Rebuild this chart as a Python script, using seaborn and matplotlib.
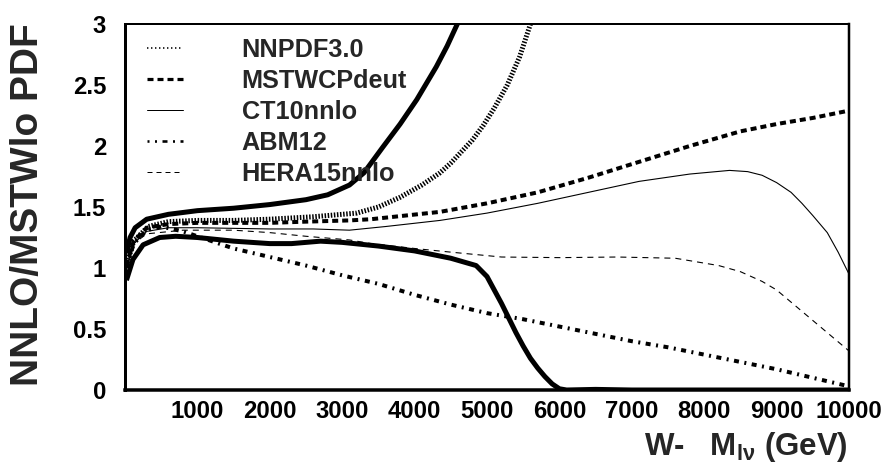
import numpy as np
import pandas as pd
import matplotlib
matplotlib.use("Agg")
import matplotlib.pyplot as plt
from matplotlib.lines import Line2D
from matplotlib.ticker import MultipleLocator, FixedLocator, FuncFormatter
import seaborn as sns

# ---- data: ratio NNLO / MSTW lo PDF versus W- transverse mass -------------
band_hi_x = [20, 70, 140, 300, 600, 1000, 1500, 2000, 2500, 2800, 3100, 3300,
             3560, 3800, 4030, 4300, 4450, 4590, 4750]
band_hi_y = [1.12, 1.25, 1.33, 1.40, 1.44, 1.47, 1.49, 1.52, 1.56, 1.60, 1.68,
             1.78, 1.99, 2.18, 2.38, 2.65, 2.82, 3.00, 3.22]

band_lo_x = [20, 110, 250, 480, 700, 1000, 1500, 2000, 2300, 2700, 3000, 3500,
             4000, 4500, 4850, 5000, 5100, 5200, 5300, 5400, 5500, 5600, 5700,
             5800, 5900, 6000, 6100, 6500, 7000, 8000, 9000, 10000]
band_lo_y = [0.90, 1.07, 1.19, 1.25, 1.26, 1.25, 1.22, 1.20, 1.20, 1.22, 1.21,
             1.18, 1.14, 1.08, 1.02, 0.93, 0.82, 0.71, 0.59, 0.47, 0.36, 0.26,
             0.18, 0.11, 0.05, 0.01, 0.0, 0.005, 0.0, 0.0, 0.0, 0.0]

nnpdf_x = [20, 120, 320, 600, 1000, 1500, 2000, 2600, 3200, 3500, 3800, 4100,
           4350, 4500, 4800, 4950, 5100, 5280, 5450, 5600, 5700]
nnpdf_y = [1.02, 1.22, 1.34, 1.38, 1.39, 1.39, 1.40, 1.42, 1.45, 1.50, 1.58,
           1.68, 1.78, 1.86, 2.05, 2.17, 2.31, 2.50, 2.73, 3.00, 3.20]

mstw_x = [20, 120, 300, 600, 1000, 1500, 2000, 2500, 3100, 3400, 4350, 5000,
          5700, 6400, 7100, 7800, 8500, 9000, 9500, 10000]
mstw_y = [1.02, 1.22, 1.33, 1.36, 1.37, 1.37, 1.37, 1.38, 1.39, 1.40, 1.46,
          1.53, 1.62, 1.74, 1.87, 2.00, 2.12, 2.18, 2.23, 2.29]

ct10_x = [20, 120, 300, 600, 1000, 2000, 2600, 3100, 3600, 4350, 5000, 5700,
          6400, 7100, 7800, 8350, 8600, 8800, 9000, 9200, 9350, 9500, 9700,
          9850, 10000]
ct10_y = [1.00, 1.20, 1.30, 1.33, 1.33, 1.32, 1.32, 1.31, 1.34, 1.39, 1.45,
          1.53, 1.62, 1.71, 1.77, 1.80, 1.79, 1.76, 1.70, 1.62, 1.53, 1.43,
          1.29, 1.13, 0.95]

abm_x = [20, 120, 300, 500, 800, 1200, 1500, 2000, 2500, 3000, 3500, 4000,
         4500, 5000, 5500, 6000, 6500, 7000, 7500, 8000, 8500, 9000, 9500, 10000]
abm_y = [1.00, 1.20, 1.31, 1.34, 1.30, 1.22, 1.16, 1.09, 1.02, 0.94, 0.87,
         0.78, 0.70, 0.63, 0.58, 0.52, 0.46, 0.40, 0.35, 0.29, 0.23, 0.17,
         0.10, 0.03]

hera_x = [20, 120, 300, 800, 1500, 2000, 2500, 3100, 3400, 4000, 4500, 5200,
          6000, 6800, 7600, 8200, 8500, 8800, 9000, 9300, 9600, 10000]
hera_y = [1.00, 1.20, 1.28, 1.31, 1.31, 1.29, 1.26, 1.23, 1.20, 1.16, 1.13,
          1.09, 1.085, 1.09, 1.08, 1.02, 0.97, 0.89, 0.82, 0.67, 0.52, 0.32]

legend_labels = ["NNPDF3.0", "MSTWCPdeut", "CT10nnlo", "ABM12", "HERA15nnlo"]
y_ticks = [0, 0.5, 1, 1.5, 2, 2.5, 3]
x_ticks = [1000, 2000, 3000, 4000, 5000, 6000, 7000, 8000, 9000, 10000]

# ---- style ---------------------------------------------------------------
sns.set_theme(style="white")
plt.rcParams["font.family"] = ["Liberation Sans", "DejaVu Sans"]
plt.rcParams["font.weight"] = "bold"
plt.rcParams["mathtext.fontset"] = "custom"
plt.rcParams["mathtext.rm"] = "Liberation Sans:bold"
plt.rcParams["mathtext.it"] = "Liberation Sans:bold"
plt.rcParams["mathtext.bf"] = "Liberation Sans:bold"
plt.rcParams["lines.scale_dashes"] = False

PX = 0.72  # points per pixel at dpi 100

fig = plt.figure(figsize=(8.89, 4.69), dpi=100)
ax = fig.add_axes([125 / 889, 1 - 390 / 469, 724 / 889, 366 / 469])

styles = {
    "band_hi": dict(lw=5 * PX, linestyle="-"),
    "band_lo": dict(lw=5 * PX, linestyle="-"),
    "nnpdf": dict(lw=5 * PX, linestyle=(0, (1.5 * PX, 1.6 * PX))),
    "mstw": dict(lw=4 * PX, linestyle=(0, (6 * PX, 4 * PX))),
    "ct10": dict(lw=1.1 * PX, linestyle="-"),
    "abm": dict(lw=4 * PX, linestyle=(0, (5 * PX, 5.5 * PX, 2 * PX, 5.5 * PX))),
    "hera": dict(lw=1.1 * PX, linestyle=(0, (6 * PX, 5 * PX))),
}
curves = [
    ("hera", hera_x, hera_y),
    ("ct10", ct10_x, ct10_y),
    ("abm", abm_x, abm_y),
    ("mstw", mstw_x, mstw_y),
    ("nnpdf", nnpdf_x, nnpdf_y),
    ("band_lo", band_lo_x, band_lo_y),
    ("band_hi", band_hi_x, band_hi_y),
]
for name, xs, ys in curves:
    df = pd.DataFrame({"m": xs, "ratio": ys})
    sns.lineplot(data=df, x="m", y="ratio", ax=ax, color="black", sort=False,
                 estimator=None, legend=False, solid_capstyle="butt",
                 dash_capstyle="butt", **styles[name])

ax.set_xlim(0, 10000)
ax.set_ylim(0, 3)
ax.set_xlabel("")
ax.set_ylabel("")

ax.xaxis.set_major_locator(FixedLocator(x_ticks))
ax.xaxis.set_minor_locator(MultipleLocator(200))
ax.yaxis.set_major_locator(FixedLocator(y_ticks))
ax.yaxis.set_minor_locator(MultipleLocator(0.1))
ax.yaxis.set_major_formatter(FuncFormatter(lambda v, p: f"{v:g}"))
ax.xaxis.set_major_formatter(FuncFormatter(lambda v, p: f"{v:g}"))

ax.tick_params(axis="both", which="both", direction="in", colors="black",
               top=False, right=False)
ax.tick_params(axis="x", which="major", length=15 * PX, width=1.3 * PX,
               pad=10 * PX, labelsize=17.2)
ax.tick_params(axis="x", which="minor", length=7 * PX, width=1.3 * PX)
ax.tick_params(axis="y", which="major", length=14 * PX, width=1.3 * PX,
               pad=19 * PX, labelsize=17.2)
ax.tick_params(axis="y", which="minor", length=7 * PX, width=1.3 * PX)
for lab in ax.get_xticklabels() + ax.get_yticklabels():
    lab.set_fontweight("bold")

for side, w in (("bottom", 3.5), ("left", 3.0), ("top", 2.0), ("right", 2.5)):
    ax.spines[side].set_visible(True)
    ax.spines[side].set_color("black")
    ax.spines[side].set_linewidth(w * PX)

# legend entries (the two thick solid curves carry no entry)
handles = [
    Line2D([], [], color="black", lw=1.6 * PX, linestyle=(0, (1.4 * PX, 2.6 * PX))),
    Line2D([], [], color="black", lw=3.2 * PX, linestyle=(0, (6 * PX, 4 * PX))),
    Line2D([], [], color="black", lw=1.0 * PX, linestyle="-"),
    Line2D([], [], color="black", lw=2.6 * PX,
           linestyle=(3 * PX, (5 * PX, 5.5 * PX, 2 * PX, 5.5 * PX))),
    Line2D([], [], color="black", lw=1.0 * PX, linestyle=(0, (5 * PX, 4 * PX))),
]
ax.legend(handles, legend_labels, loc="upper left",
          bbox_to_anchor=(22 / 724, 0.963), frameon=False,
          prop=dict(family="Liberation Sans", weight="bold", size=18.2),
          handlelength=1.44, handletextpad=2.3, labelspacing=0.28,
          borderpad=0, borderaxespad=0)

fig.text(28 / 889, 1 - 23 / 469, "NNLO/MSTWlo PDF", rotation=90,
         ha="center", va="top", fontsize=28, fontweight="bold")
fig.text(848 / 889, 1 - 455 / 469, r"W-   M$_{l\nu}$ (GeV)",
         ha="right", va="baseline", fontsize=22.5, fontweight="bold")

fig.savefig("out.png", dpi=100, facecolor="white")
